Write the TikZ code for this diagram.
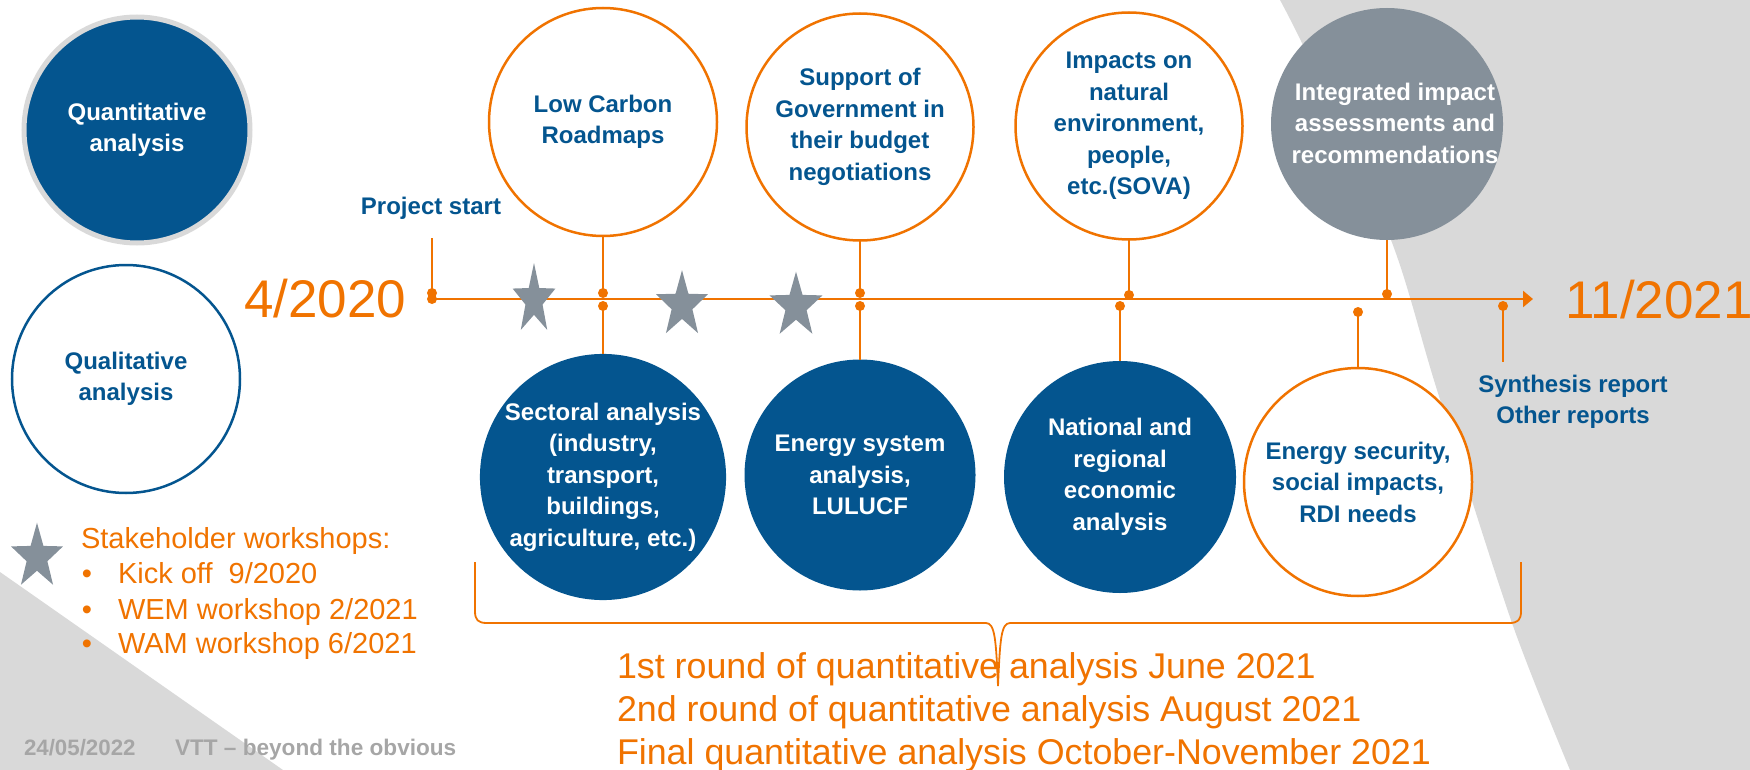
\documentclass[tikz,border=0pt]{standalone}
\usepackage{fontspec}
\setmainfont{Liberation Sans}
\usetikzlibrary{arrows.meta}
\definecolor{vblue}{HTML}{04558F}
\definecolor{vorange}{HTML}{F07300}
\definecolor{vgray}{HTML}{85909A}
\definecolor{bggray}{HTML}{D9D9D9}
\definecolor{footgray}{HTML}{A6A6A6}
\tikzset{
  pics/wstar/.style={code={\fill[vgray] (270:1) -- (306:.4) -- (342:1) -- (18:.4) -- (54:1) -- (90:.4) -- (126:1) -- (162:.4) -- (198:1) -- (234:.4) -- cycle;}},
  btxt/.style={font=\bfseries\fontsize{24}{31.5}\selectfont, align=center},
  ocirc/.style={circle, draw=vorange, line width=2.5pt, fill=white, minimum size=#1, text=vblue, btxt},
  bcirc/.style={circle, fill=vblue, minimum size=#1, text=white, btxt},
  dotn/.style={circle, fill=vorange, minimum size=10pt},
  conn/.style={draw=vorange, line width=2.5pt},
  otxt/.style={text=vorange, font=\fontsize{#1}{#1}\selectfont},
}
\begin{document}
\begin{tikzpicture}[x=1pt,y=-1pt, every node/.style={inner sep=0pt, outer sep=0pt}]
\useasboundingbox (0,0) rectangle (1750,770);
% background shapes
\fill[bggray] plot[smooth, tension=0.5] coordinates {(1280,0) (1310,60) (1391,240) (1437,390) (1512,623) (1570,770)} -- (1750,770) -- (1750,0) -- cycle;
\fill[bggray] (0,572) -- (283,770) -- (0,770) -- cycle;

% dots and free ends
\node[dotn] (d0a) at (432,293) {};
\node[dotn] (d0b) at (432,299) {};
\node[dotn] (dlc1) at (603,293) {};
\node[dotn] (dlc2) at (603,306) {};
\node[dotn] (dsp1) at (860,293) {};
\node[dotn] (dsp2) at (860,306) {};
\node[dotn] (dim) at (1129,295) {};
\node[dotn] (dna) at (1120,306) {};
\node[dotn] (din) at (1387,294) {};
\node[dotn] (des) at (1358,312) {};
\node[dotn] (dsy) at (1503,306) {};
\coordinate (pstop) at (432,238);
\coordinate (tend) at (1533,299);
\coordinate (syend) at (1503,362);

% timeline
\draw[conn, -{Triangle[length=10pt,width=16pt]}] (d0b.center) -- (tend);

% brace
\draw[vorange, line width=1.8pt] (475,562) -- (475,611) .. controls (475,620) and (478,623) .. (487,623) -- (986,623)
  .. controls (995,623) and (996,640) .. (998,686) .. controls (1000,640) and (1001,623) .. (1010,623)
  -- (1509,623) .. controls (1518,623) and (1521,620) .. (1521,611) -- (1521,562);

% circles
\node[circle, draw=bggray, line width=5pt, fill=vblue, minimum size=226pt, text=white, btxt] (quant) at (137,130) {Quantitative\\analysis};
\node[circle, draw=vblue, line width=2.5pt, fill=white, minimum size=228pt, text=vblue, btxt] (qual) at (126,379) {Qualitative\\analysis};
\node[ocirc=228pt] (lowc) at (603,122) {Low Carbon\\Roadmaps};
\node[ocirc=227pt] (supp) at (860,127) {Support of\\Government in\\their budget\\negotiations};
\node[ocirc=227pt] (imp) at (1129,126) {Impacts on\\natural\\environment,\\people,\\etc.(SOVA)};
\node[circle, fill=vgray, minimum size=232pt] (integ) at (1387,124) {};
\node[text=white, btxt] (integtxt) at (1395,123) {Integrated impact\\assessments and\\recommendations};
\node[bcirc=232pt] (sect) at (603,477) {Sectoral analysis\\(industry,\\transport,\\buildings,\\agriculture, etc.)};
\node[bcirc=231pt] (enes) at (860,475) {Energy system\\analysis,\\LULUCF};
\node[bcirc=232pt] (nat) at (1120,477) {National and\\regional\\economic\\analysis};
\node[ocirc=228pt] (esec) at (1358,482) {Energy security,\\social impacts,\\RDI needs};

% connectors
\draw[conn] (pstop) -- (d0a.center);
\draw[conn] (lowc.south) -- (dlc1.center);
\draw[conn] (dlc2.center) -- (sect.north);
\draw[conn] (supp.south) -- (dsp1.center);
\draw[conn] (dsp2.center) -- (enes.north);
\draw[conn] (imp.south) -- (dim.center);
\draw[conn] (dna.center) -- (nat.north);
\draw[conn] (integ.south) -- (din.center);
\draw[conn] (des.center) -- (esec.north);
\draw[conn] (dsy.center) -- (syend);

% stars
\pic[xscale=22.5, yscale=37] at (534,300) {wstar};
\pic[xscale=27.3, yscale=34.8] at (682,305) {wstar};
\pic[xscale=27.8, yscale=34.3] at (796,306) {wstar};
\pic[xscale=27.3, yscale=34.3] at (37,557) {wstar};

% labels
\node[text=vblue, btxt] (pstart) at (431,208) {Project start};
\node[text=vblue, btxt] (reports) at (1573,402) {Synthesis report\\Other reports};
\node[otxt=53, anchor=base west] (dstart) at (244,317) {4/2020};
\node[otxt=53, anchor=base west] (dend) at (1565,318) {11/2021};

% legend
\node[otxt=29, anchor=base west] (leg0) at (81,548) {Stakeholder workshops:};
\node[otxt=29, anchor=base] (b1) at (87,583) {•};
\node[otxt=29, anchor=base] (b2) at (87,619) {•};
\node[otxt=29, anchor=base] (b3) at (87,653) {•};
\node[otxt=29, anchor=base west] (leg1) at (118,583) {Kick off\ \ 9/2020};
\node[otxt=29, anchor=base west] (leg2) at (118,619) {WEM workshop 2/2021};
\node[otxt=29, anchor=base west] (leg3) at (118,653) {WAM workshop 6/2021};

% bottom lines
\node[otxt=35.8, anchor=base west] (r1) at (617,678) {1st round of quantitative analysis June 2021};
\node[otxt=35.8, anchor=base west] (r2) at (617,721) {2nd round of quantitative analysis August 2021};
\node[otxt=35.8, anchor=base west] (r3) at (617,764) {Final quantitative analysis October-November 2021};

% footer
\node[text=footgray, font=\bfseries\fontsize{22.3}{22.3}\selectfont, anchor=base west] (fdate) at (24,755) {24/05/2022};
\node[text=footgray, font=\bfseries\fontsize{22.6}{22.6}\selectfont, anchor=base west] (fvtt) at (175,755) {VTT – beyond the obvious};
\end{tikzpicture}
\end{document}
